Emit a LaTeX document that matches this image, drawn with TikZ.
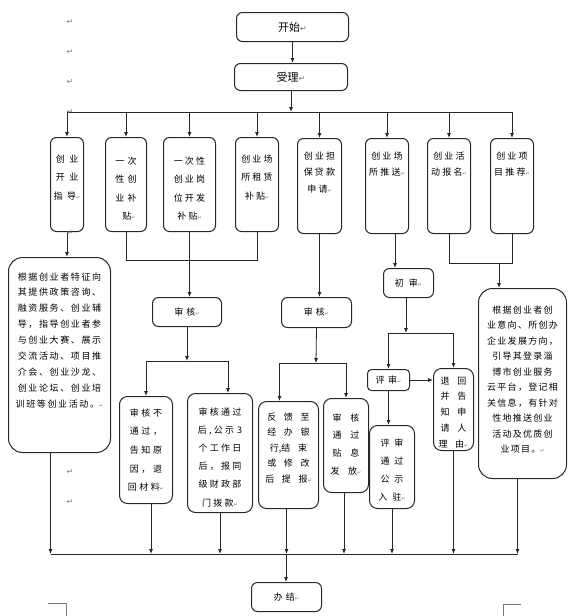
\documentclass[tikz,border=0pt]{standalone}
\usepackage{fontspec}
\usetikzlibrary{arrows.meta, calc}
\newfontfamily\cjk[LetterSpace=25]{Noto Sans CJK SC}
\newfontfamily\symf{DejaVu Sans}
\definecolor{linec}{RGB}{40,40,40}
\definecolor{markc}{RGB}{120,120,120}
% size / baselineskip / letter spacing
\newcommand{\cf}[3]{\cjk\fontsize{#1}{#2}\selectfont\addfontfeatures{LetterSpace=#3}}
\newcommand{\pmk}[1][5]{{\color{markc}\symf\fontsize{#1}{#1}\selectfont ↵}}
\tikzset{
  ln/.style={draw=linec, line width=0.8pt},
  arr/.style={ln, -{Latex[length=5pt,width=4pt]}},
  card/.style={draw=linec, line width=1pt, rounded corners=6pt, inner sep=0pt,
    anchor=north west, align=center, text=black},
  tb/.style n args={3}{card, text width=#1pt, text height=#2pt, text depth=#3pt},
  sb/.style 2 args={card, minimum width=#1pt, minimum height=#2pt},
  pmark/.style={text=markc, font=\symf\fontsize{8}{8}\selectfont, inner sep=0pt}
}
\begin{document}
\begin{tikzpicture}[x=1pt, y=-1pt]
  \useasboundingbox (0,0) rectangle (574,616);

  % start and intake
  \node[sb={112}{29}, font=\cf{11}{14}{0}] (start) at (236,12) {开始\pmk[8]};
  \node[sb={113}{27}, font=\cf{11}{14}{0}] (accept) at (234,63) {受理\pmk[8]};

  % services row
  \node[tb={33}{24.5}{69.5}, font=\cf{9}{18.5}{50}] (b1) at (50,137) {创业\\开业\\指导\pmk};
  \node[tb={41}{26.5}{67.5}, font=\cf{9}{18.5}{35}] (b2) at (105,137) {一次\\性创\\业补\\\ \ 贴\pmk};
  \node[tb={52}{26.5}{67.5}, font=\cf{9}{18.5}{25}] (b3) at (163,137) {一次性\\创业岗\\位开发\\补贴\pmk};
  \node[tb={43}{24.5}{69.5}, font=\cf{9}{18.5}{25}] (b4) at (235,137) {创业场\\所租赁\\补贴\pmk};
  \node[tb={44}{20.5}{74.5}, font=\cf{9}{16.5}{25}] (b5) at (297,138) {创业担\\保贷款\\申请\pmk};
  \node[tb={43}{20.5}{74.5}, font=\cf{9}{16.5}{25}] (b6) at (365,138) {创业场\\所推送\pmk};
  \node[tb={43}{20.5}{74.5}, font=\cf{9}{16.5}{25}] (b7) at (427,138) {创业活\\动报名\pmk};
  \node[tb={43}{20.5}{74.5}, font=\cf{9}{16.5}{25}] (b8) at (490,138) {创业项\\目推荐\pmk};

  % guidance texts
  \node[tb={102}{22.5}{172.5}, rounded corners=14pt, font=\cf{9}{15.9}{18}] (bigL) at (8,257)
    {根据创业者特征向\\其提供政策咨询、\\融资服务、创业辅\\导，指导创业者参\\与创业大赛、展示\\交流活动、项目推\\介会、创业沙龙、\\创业论坛、创业培\\训班等创业活动。\pmk};
  \node[tb={88}{24.5}{165.5}, rounded corners=14pt, font=\cf{9}{15.5}{14}] (bigR) at (478,288)
    {根据创业者创\\业意向、所创办\\企业发展方向，\\引导其登录淄\\博市创业服务\\云平台，登记相\\关信息，有针对\\性地推送创业\\活动及优质创\\业项目。\pmk};

  % checks
  \node[sb={69}{29}, font=\cf{9}{12}{35}] (audit1) at (152,297) {审核\pmk};
  \node[sb={70}{30}, font=\cf{9}{12}{35}] (audit2) at (281,297) {审核\pmk};
  \node[sb={50}{29}, font=\cf{9}{12}{55}] (prelim) at (383,268) {初审\pmk};
  \node[sb={42}{21}, font=\cf{9}{12}{40}, rounded corners=4pt] (review) at (367,369) {评审\pmk};

  % results
  \node[tb={53}{19.5}{87.5}, rounded corners=8pt, font=\cf{9}{18.7}{28}] (fail) at (119,396)
    {审核不\\通过，\\告知原\\因，退\\回材料\pmk};
  \node[tb={65}{21.5}{97.5}, rounded corners=8pt, font=\cf{9}{18.2}{25}] (pass1) at (187,393)
    {审核通过\\后,公示 3\\个工作日\\后，报同\\级财政部\\门拨款\pmk};
  \node[tb={60}{18.5}{88.5}, rounded corners=8pt, font=\cf{9}{15.5}{85}] (fb) at (258,401)
    {反馈至\\经办银\\行{\addfontfeatures{LetterSpace=0},}结束\\或修改\\后提报\pmk};
  \node[tb={45}{22.5}{71.5}, rounded corners=8pt, font=\cf{9}{17.7}{95}] (subsidy) at (323,398)
    {审核\\通过\\贴息\\发放\pmk};
  \node[tb={45}{20.5}{62.5}, rounded corners=8pt, font=\cf{9}{18.3}{55}] (admit) at (369,425)
    {评审\\通过\\公示\\入驻\pmk};
  \node[tb={40}{15.5}{66.5}, rounded corners=8pt, font=\cf{9}{15.8}{85}] (reject) at (433,368)
    {退回\\并告\\知申\\请人\\理由\pmk};

  \node[sb={70}{29}, font=\cf{9}{12}{35}] (done) at (251,582) {办结\pmk};

  % junctions
  \coordinate (bus) at (288,112);
  \coordinate (j2) at (187,260);
  \coordinate (j7) at (499,263);
  \coordinate (j9) at (187,361);
  \coordinate (j10) at (316,363);
  \coordinate (j11) at (406,333);
  \coordinate (bot) at (286,554);

  % top
  \draw[arr] (start.south) -- (start.south |- accept.north);
  \draw[arr] (accept.south) -- (accept.south |- bus);
  \draw[ln] (b1.north |- bus) -- (b8.north |- bus);
  \foreach \b in {b1,b2,b3,b4,b5,b6,b7,b8}
    \draw[arr] (\b.north |- bus) -- (\b.north);

  % services to checks
  \draw[arr] (b1.south) -- (b1.south |- bigL.north);
  \draw[ln] (b2.south) -- (b2.south |- j2) -- (b4.south |- j2) -- (b4.south);
  \draw[arr] (b3.south) -- (b3.south |- audit1.north);
  \draw[arr] (b5.south) -- (b5.south |- audit2.north);
  \draw[arr] ([xshift=8pt]b6.south) -- ([xshift=8pt]b6.south |- prelim.north);
  \draw[ln] (b7.south) -- (b7.south |- j7) -- (b8.south |- j7) -- (b8.south);
  \draw[arr] (j7) -- (j7 |- bigR.north);

  % audit 1
  \draw[arr] (audit1.south) -- (j9);
  \draw[ln] (fail.north |- j9) -- ([xshift=8pt]pass1.north |- j9);
  \draw[arr] (fail.north |- j9) -- (fail.north);
  \draw[arr] ([xshift=8pt]pass1.north |- j9) -- ([xshift=8pt]pass1.north);

  % audit 2
  \draw[arr] (audit2.south) -- (j10);
  \draw[ln] ([xshift=-9pt]fb.north |- j10) -- (subsidy.north |- j10);
  \draw[arr] ([xshift=-9pt]fb.north |- j10) -- ([xshift=-9pt]fb.north);
  \draw[arr] (subsidy.north |- j10) -- (subsidy.north);

  % first check and review
  \draw[arr] (prelim.south -| j11) -- (j11);
  \draw[ln] (review.north |- j11) -- (reject.north |- j11);
  \draw[arr] (review.north |- j11) -- (review.north);
  \draw[arr] (reject.north |- j11) -- (reject.north);
  \draw[arr] (review.east) -- (review.east -| reject.west);
  \draw[arr] (review.south) -- (review.south |- admit.north);

  % bottom bus
  \draw[ln] ([xshift=-9pt]bigL.south |- bot) -- ([xshift=-5pt]bigR.south |- bot);
  \foreach \n/\s in {bigL/-9, fail/5, pass1/0, fb/-2, subsidy/-2, admit/0, reject/0, bigR/-5}
    \draw[arr] ([xshift=\s pt]\n.south) -- ([xshift=\s pt]\n.south |- bot);
  \draw[arr] (bot) -- (bot |- done.north);

  % paragraph marks and page corners
  \foreach \i/\y in {1/22, 2/52, 3/82, 4/112, 5/233, 6/472, 7/502}
    \node[pmark] (m\i) at (70,\y) {↵};
  \draw[markc, line width=0.6pt] (48,603) -- (66,603) -- (66,616);
  \draw[markc, line width=0.6pt] (503,616) -- (503,604) -- (521,604);
\end{tikzpicture}
\end{document}
